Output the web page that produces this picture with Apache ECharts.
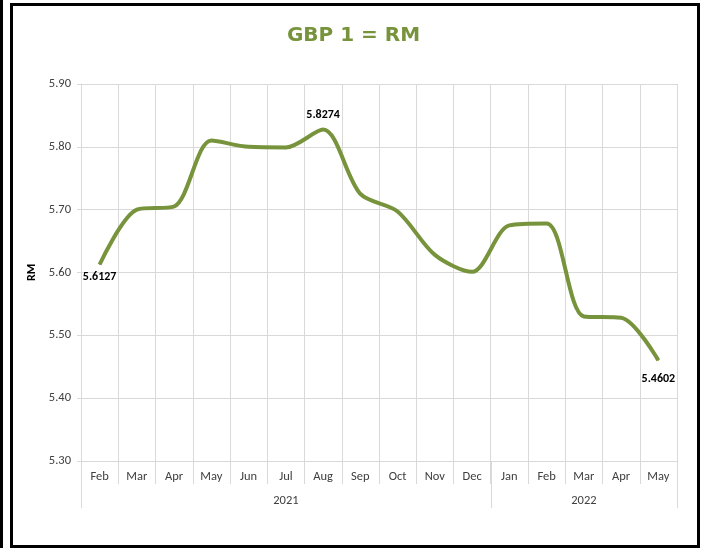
<!DOCTYPE html>
<html><head><meta charset="utf-8">
<script src="https://cdn.jsdelivr.net/npm/echarts@6/dist/echarts.min.js"></script>
<style>html,body{margin:0;padding:0;background:#fff}#c{width:707px;height:552px}</style>
</head><body><div id="c"></div>
<script>
var months = ['Feb','Mar','Apr','May','Jun','Jul','Aug','Sep','Oct','Nov','Dec','Jan','Feb','Mar','Apr','May'];
var rates = [5.6127,5.700,5.705,5.810,5.800,5.799,5.8274,5.725,5.697,5.628,5.601,5.675,5.678,5.530,5.528,5.4602];
var years = ['2021','2022'];
var yearMonthCounts = [11,5];
var labelled = {0:['bottom',6],6:['top',8],15:['bottom',12]};
var yTicks = {min:5.30,max:5.90,step:0.10};

var font = 'Carlito, Lato, "Liberation Sans", Arial, sans-serif';
var olive = '#77933C';
var gridColor = '#d9d9d9';

var yearBounds = [0]; yearMonthCounts.forEach(function(n,i){yearBounds.push(yearBounds[i]+n);});
var yearCenters = years.map(function(y,i){return (yearBounds[i]+yearBounds[i+1])/2;});

var chart = echarts.init(document.getElementById('c'));
chart.setOption({
  backgroundColor:'#fff',
  animation:false,
  title:{text:'GBP 1 = RM',left:'center',top:21,textStyle:{color:olive,fontSize:20,fontWeight:'bold',fontFamily:'"DejaVu Sans", sans-serif'}},
  grid:{left:81,right:30,top:84,bottom:91},
  xAxis:[{
    type:'category',data:months,boundaryGap:true,position:'bottom',
    axisLine:{lineStyle:{color:gridColor}},
    axisTick:{show:true,length:23,lineStyle:{color:gridColor},alignWithLabel:false},
    axisLabel:{color:'#404040',fontSize:12.5,fontFamily:font,margin:9,interval:0},
    splitLine:{show:true,lineStyle:{color:gridColor}}
  },{
    type:'value',min:0,max:yearBounds[yearBounds.length-1],position:'bottom',
    axisLine:{show:false},
    axisTick:{show:true,length:47,lineStyle:{color:gridColor},customValues:yearBounds},
    axisLabel:{show:true,color:'#404040',fontSize:12.5,fontFamily:font,margin:33,customValues:yearCenters,
      formatter:function(v){for(var i=0;i<years.length;i++){if(v>yearBounds[i]&&v<yearBounds[i+1])return years[i];}return '';}},
    splitLine:{show:false}
  }],
  yAxis:{
    type:'value',min:yTicks.min,max:yTicks.max,interval:yTicks.step,
    name:'RM',nameLocation:'middle',nameGap:36,nameRotate:90,
    nameTextStyle:{fontWeight:'bold',fontSize:12,color:'#000',fontFamily:font},
    axisLine:{show:true,lineStyle:{color:gridColor}},
    axisTick:{show:true,length:4,lineStyle:{color:gridColor}},
    axisLabel:{color:'#404040',fontSize:12.5,fontFamily:font,margin:10,formatter:function(v){return v.toFixed(2);}},
    splitLine:{show:true,lineStyle:{color:gridColor}}
  },
  series:[{
    type:'line',xAxisIndex:0,smooth:0.3,symbol:'circle',symbolSize:1,showSymbol:true,
    itemStyle:{color:olive},
    lineStyle:{color:olive,width:4},
    data:rates.map(function(v,i){
      var o={value:v};
      if(labelled[i]!==undefined){o.label={show:true,position:labelled[i][0],distance:labelled[i][1],formatter:function(p){return p.value.toFixed(4);},fontWeight:'bold',fontSize:12,color:'#000',fontFamily:font};}
      return o;
    })
  }],
  graphic:[
    {type:'rect',shape:{x:11.5,y:4.5,width:687,height:542},style:{fill:null,stroke:'#000',lineWidth:3}},
    {type:'line',shape:{x1:1.5,y1:0,x2:1.5,y2:548},style:{stroke:'#000',lineWidth:3}}
  ]
});
</script></body></html>
